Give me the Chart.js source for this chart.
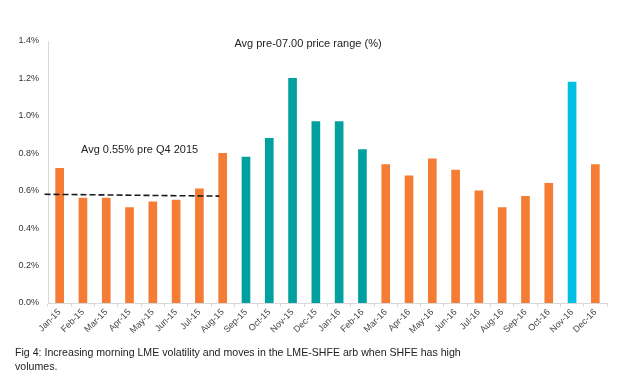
<!DOCTYPE html>
<html>
<head>
<meta charset="utf-8">
<script src="https://cdn.jsdelivr.net/npm/chart.js@4"></script>
<style>
  body { margin: 0; background: #fff; }
  #wrap { position: relative; width: 618px; height: 380px; }
  #caption { position: absolute; left: 15px; top: 345px; font: 10.6px "Liberation Sans", Arial, sans-serif; color: #222; line-height: 14px; }
</style>
</head>
<body>
<div id="wrap">
  <canvas id="myChart" width="618" height="380"></canvas>
  <div id="caption">Fig 4: Increasing morning LME volatility and moves in the LME-SHFE arb when SHFE has high<br>volumes.</div>
</div>
<script>
const months = ['Jan-15', 'Feb-15', 'Mar-15', 'Apr-15', 'May-15', 'Jun-15', 'Jul-15', 'Aug-15', 'Sep-15', 'Oct-15',
  'Nov-15', 'Dec-15', 'Jan-16', 'Feb-16', 'Mar-16', 'Apr-16', 'May-16', 'Jun-16', 'Jul-16', 'Aug-16', 'Sep-16',
  'Oct-16', 'Nov-16', 'Dec-16'];
const priceRange = [0.72, 0.56, 0.56, 0.51, 0.54, 0.55, 0.61, 0.80, 0.78, 0.88, 1.20, 0.97, 0.97, 0.82, 0.74, 0.68,
  0.77, 0.71, 0.60, 0.51, 0.57, 0.64, 1.18, 0.74];
// o = normal, t = high SHFE volume, c = Nov-16
const barGroup = ['o', 'o', 'o', 'o', 'o', 'o', 'o', 'o', 't', 't', 't', 't', 't', 't', 'o', 'o', 'o', 'o', 'o', 'o',
  'o', 'o', 'c', 'o'];
const yTicks = [0, 0.2, 0.4, 0.6, 0.8, 1.0, 1.2, 1.4];
// dashed average line: from/to category positions and values
const avgLineX = [-0.65, 6.85];
const avgLineY = [0.581, 0.571];

const groupColors = { o: '#F57C35', t: '#00A09E', c: '#00BFE0' };
const font = '"Liberation Sans", Arial, sans-serif';

const textPlugin = {
  id: 'texts',
  afterDatasetsDraw(chart) {
    const c = chart.ctx;
    const x = chart.scales.x, y = chart.scales.y;
    c.save();
    c.strokeStyle = '#1a1a1a';
    c.lineWidth = 1.6;
    c.setLineDash([6, 3]);
    c.beginPath();
    c.moveTo(x.getPixelForValue(avgLineX[0]), y.getPixelForValue(avgLineY[0]));
    c.lineTo(x.getPixelForValue(avgLineX[1]), y.getPixelForValue(avgLineY[1]));
    c.stroke();
    c.setLineDash([]);
    c.fillStyle = '#222';
    c.font = '11px ' + font;
    c.textBaseline = 'middle';
    c.textAlign = 'center';
    c.fillText('Avg pre-07.00 price range (%)', 308, 44);
    c.textAlign = 'left';
    c.fillText('Avg 0.55% pre Q4 2015', 81, 150);
    c.restore();
  }
};

const ctx = document.getElementById('myChart');
new Chart(ctx, {
  type: 'bar',
  data: {
    labels: months,
    datasets: [{
      data: priceRange,
      backgroundColor: barGroup.map(g => groupColors[g]),
      barThickness: 8
    }]
  },
  options: {
    responsive: false,
    animation: false,
    layout: { padding: { top: 41, right: 11, left: 0, bottom: 0 } },
    plugins: { legend: { display: false }, tooltip: { enabled: false } },
    scales: {
      y: {
        min: 0,
        max: 1.4,
        afterBuildTicks(scale) { scale.ticks = yTicks.map(v => ({ value: v })); },
        afterFit(scale) { scale.width = 48; },
        grid: { display: false },
        border: { color: '#d9d9d9' },
        ticks: {
          color: '#333',
          font: { size: 9, family: font },
          padding: 1,
          callback: v => v.toFixed(1) + '%'
        }
      },
      x: {
        offset: true,
        afterFit(scale) { scale.height = 77; },
        grid: { drawOnChartArea: false, offset: true, color: '#d9d9d9', tickLength: 4 },
        border: { color: '#d9d9d9' },
        ticks: {
          color: '#444',
          font: { size: 9, family: font },
          maxRotation: 45,
          minRotation: 45,
          autoSkip: false,
          padding: 0
        }
      }
    }
  },
  plugins: [textPlugin]
});
</script>
</body>
</html>
